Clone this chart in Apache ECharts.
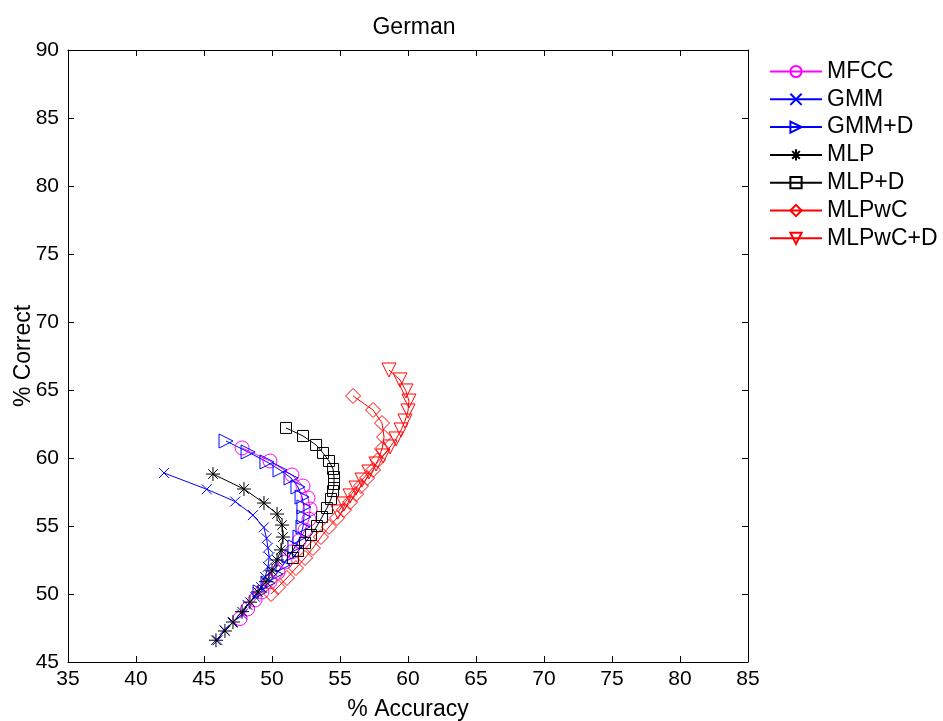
<!DOCTYPE html>
<html><head><meta charset="utf-8">
<script src="https://cdn.jsdelivr.net/npm/echarts@6/dist/echarts.min.js"></script>
<style>html,body{margin:0;padding:0;background:#fff}#c{width:943px;height:721px}</style>
</head><body><div id="c"></div>
<script>
const seriesNames = ['MFCC','GMM','GMM+D','MLP','MLP+D','MLPwC','MLPwC+D'];
const MFCC = [[47.8,60.74],[49.85,59.78],[51.47,58.75],[52.28,57.94],[52.65,57.06],[52.8,56.25],[52.72,55.5],[52.43,54.7],[51.99,53.9],[51.47,53.1],[50.96,52.35],[50.44,51.6],[49.85,50.9],[49.26,50.15],[48.75,49.56],[48.2,48.9],[47.65,48.2]];
const GMM = [[42.06,58.9],[45.2,57.7],[47.3,56.8],[48.6,55.8],[49.4,54.9],[49.6,54.1],[49.7,53.4],[49.8,52.7],[49.7,52.0],[49.5,51.25],[49.2,50.5],[48.75,49.8],[48.2,49.2],[47.8,48.5],[47.1,47.9],[46.5,47.35],[46.0,46.6]];
const GMMD = [[46.62,61.25],[48.24,60.44],[49.63,59.71],[50.59,59.12],[51.4,58.53],[51.91,57.87],[52.21,57.13],[52.35,56.4],[52.35,55.66],[52.28,54.93],[52.06,54.19],[51.69,53.46],[51.25,52.79],[50.81,52.13],[50.29,51.47],[49.71,50.81],[49.12,50.15]];
const MLP = [[45.66,58.82],[47.94,57.72],[49.41,56.69],[50.37,55.88],[50.74,55.07],[50.81,54.19],[50.66,53.24],[50.37,52.5],[50.0,51.7],[49.56,50.9],[48.97,50.15],[48.38,49.4],[47.8,48.7],[47.13,47.94],[46.54,47.28],[45.88,46.6]];
const MLPD = [[51.03,62.21],[52.28,61.62],[53.24,60.96],[53.75,60.37],[54.19,59.78],[54.49,59.19],[54.56,58.6],[54.56,58.09],[54.49,57.57],[54.34,56.99],[54.04,56.32],[53.68,55.66],[53.31,55.0],[52.87,54.34],[52.43,53.75],[51.91,53.16],[51.54,52.65]];
const MLPwC = [[55.96,64.56],[57.43,63.53],[58.09,62.57],[58.24,61.54],[58.09,60.66],[57.79,59.85],[57.43,59.12],[56.99,58.53],[56.54,57.94],[56.18,57.35],[55.74,56.76],[55.29,56.18],[54.78,55.59],[54.19,54.93],[53.6,54.19],[53.01,53.38],[52.43,52.65],[51.76,51.91],[51.1,51.18],[50.44,50.51],[49.93,50.0]];
const MLPwCD = [[58.6,66.47],[59.41,65.74],[59.85,64.93],[60.07,64.19],[60.0,63.46],[59.78,62.72],[59.49,62.06],[59.12,61.4],[58.68,60.81],[58.16,60.15],[57.65,59.56],[57.13,58.97],[56.62,58.38],[56.18,57.79],[55.74,57.21],[55.29,56.62],[54.85,56.03]];
const xTicks = [35,40,45,50,55,60,65,70,75,80,85];
const yTicks = [45,50,55,60,65,70,75,80,85,90];

const dataList = [MFCC,GMM,GMMD,MLP,MLPD,MLPwC,MLPwCD];
const colors = ['#ff00ff','#0000ff','#0000ff','#000000','#000000','#ff0000','#ff0000'];
const symbols = [
  'circle',
  'path://M0,0L10,10M10,0L0,10',
  'triangle',
  'path://M5,0L5,10M0,5L10,5M1.6,1.6L8.4,8.4M8.4,1.6L1.6,8.4',
  'rect',
  'diamond',
  'triangle'
];
const rots = [0,0,-90,0,0,0,180];
const sizes = [14,10,14,14,11,15,14];

const series = seriesNames.map((n,i)=>({
  name:n, type:'line', data:dataList[i], symbol:symbols[i], symbolRotate:rots[i], symbolSize:sizes[i],
  showAllSymbol:true, animation:false,
  lineStyle:{color:colors[i], width:1},
  itemStyle:{color:'rgba(0,0,0,0)', borderColor:colors[i], borderWidth:1}
}));

const font = 'Liberation Sans, Arial, sans-serif';
const chart = echarts.init(document.getElementById('c'));
chart.setOption({
  animation:false,
  title:{text:'German', left:409, top:11, textAlign:'center', textStyle:{fontFamily:font, fontSize:23, fontWeight:'normal', color:'#000'}},
  legend:{orient:'vertical', left:764, top:55, itemWidth:52, itemHeight:14, itemGap:4.8,
    textStyle:{fontFamily:font, fontSize:23, color:'#000'},
    data:seriesNames},
  grid:{left:68, right:195, top:50, bottom:59, containLabel:false, outerBoundsMode:'none'},
  xAxis:[{type:'value', min:35, max:85, interval:5, name:'% Accuracy', nameLocation:'middle', nameGap:36.5,
    nameTextStyle:{fontFamily:font, fontSize:23, color:'#000'},
    axisLine:{lineStyle:{color:'#000'}}, axisTick:{inside:true, length:6, lineStyle:{color:'#000'}},
    axisLabel:{fontFamily:font, fontSize:21, color:'#000', margin:7, formatter:v=>xTicks.includes(v)?String(v):''}, splitLine:{show:false}},
    {type:'value', position:'top', min:35, max:85, interval:5, axisLine:{lineStyle:{color:'#000'}}, axisTick:{inside:true,length:6,lineStyle:{color:'#000'}}, axisLabel:{show:false}, splitLine:{show:false}}],
  yAxis:[{type:'value', min:45, max:90, interval:5, name:'% Correct', nameLocation:'middle', nameGap:33, nameRotate:90, nameMoveOverlap:false,
    nameTextStyle:{fontFamily:font, fontSize:23, color:'#000'},
    axisLine:{lineStyle:{color:'#000'}}, axisTick:{inside:true, length:6, lineStyle:{color:'#000'}},
    axisLabel:{fontFamily:font, fontSize:21, color:'#000', margin:9, formatter:v=>yTicks.includes(v)?String(v):''}, splitLine:{show:false}},
    {type:'value', position:'right', min:45, max:90, interval:5, axisLine:{lineStyle:{color:'#000'}}, axisTick:{inside:true,length:6,lineStyle:{color:'#000'}}, axisLabel:{show:false}, splitLine:{show:false}}],
  series:series
});
</script></body></html>
